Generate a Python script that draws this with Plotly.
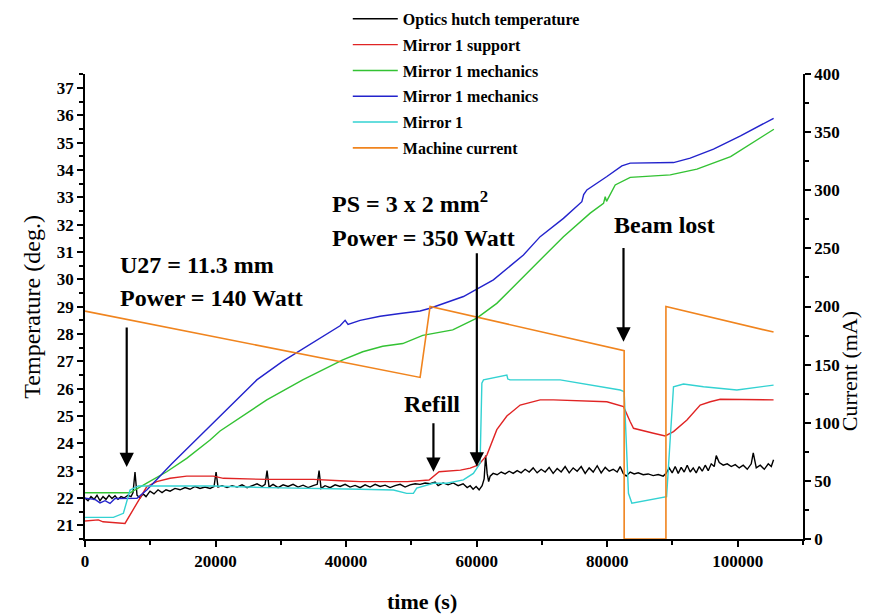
import plotly.graph_objects as go

# ---------------- data ----------------
t_black = [0, 460, 920, 1380, 1840, 2300, 2760, 3220, 3680, 4140, 4600, 5060, 5520, 5980, 6590, 7050, 7360,
           7660, 7970, 8430, 8890, 9350, 9960, 10570, 11190, 11800, 12410, 13030, 13790, 14560, 15330, 16090,
           16860, 17620, 18390, 19160, 19770, 20080, 20380, 21000, 21760, 22530, 23300, 24060, 24830, 25590,
           26360, 27130, 27590, 27890, 28200, 28810, 29580, 30350, 31110, 31880, 32640, 33410, 34180, 34940,
           35580, 35860, 36170, 36780, 37550, 38320, 39080, 39850, 40610, 41380, 42150, 42910, 43680, 44450,
           45210, 45980, 46740, 47510, 48280, 49040, 49810, 50580, 51340, 52110, 52870, 53640, 54100, 54870,
           55630, 56400, 57170, 57930, 58550, 59010, 59460, 59920, 60380, 60840, 61150, 61380, 61610, 61840,
           62070, 62530, 63140, 63760, 64370, 64980, 65600, 66210, 66820, 67430, 68050, 68660, 69270, 69890,
           70500, 71110, 71720, 72340, 72950, 73560, 74180, 74790, 75400, 76020, 76630, 77240, 77860, 78470,
           79080, 79700, 80310, 80920, 81530, 81990, 82450, 82910, 83530, 84140, 84750, 85520, 86280, 87050,
           87820, 88580, 89040, 89500, 89960, 90420, 90880, 91340, 91800, 92260, 92720, 93180, 93640, 94100,
           94560, 95020, 95480, 95940, 96400, 96710, 97170, 97780, 98390, 99010, 99620, 100230, 100840, 101460,
           102070, 102380, 102840, 103450, 104070, 104680, 105140, 105490]
T_black = [22.0, 21.9, 22.05, 21.95, 22.1, 21.9, 22.05, 21.95, 22.1, 21.98, 22.08, 21.95, 22.05, 22.0, 22.1,
           22.05, 22.2, 22.95, 22.1, 22.0, 22.15, 22.05, 22.25, 22.15, 22.3, 22.2, 22.3, 22.25, 22.35, 22.3,
           22.38, 22.32, 22.42, 22.35, 22.4, 22.35, 22.42, 22.95, 22.4, 22.45, 22.38, 22.45, 22.4, 22.48, 22.38,
           22.45, 22.52, 22.42, 22.5, 23.0, 22.4, 22.5, 22.38, 22.48, 22.42, 22.5, 22.4, 22.47, 22.38, 22.45,
           22.5, 23.0, 22.35, 22.45, 22.38, 22.48, 22.42, 22.5, 22.4, 22.46, 22.38, 22.48, 22.4, 22.5, 22.42,
           22.47, 22.38, 22.45, 22.5, 22.4, 22.48, 22.52, 22.5, 22.55, 22.52, 22.58, 22.45, 22.55, 22.48, 22.55,
           22.45, 22.52, 22.38, 22.45, 22.32, 22.42, 22.3, 22.45, 22.7, 23.55, 22.9, 22.6, 22.8, 22.9, 22.85,
           22.95, 22.88, 22.98, 22.9, 23.0, 22.92, 23.05, 22.95, 23.1, 22.92, 23.05, 22.95, 23.12, 22.9, 23.08,
           22.95, 23.15, 22.92, 23.1, 22.98, 23.15, 22.9, 23.1, 22.95, 23.18, 22.92, 23.12, 22.98, 23.05, 22.95,
           23.15, 22.9, 22.8, 22.95, 22.88, 22.92, 22.85, 22.88, 22.82, 22.86, 22.8, 22.9, 23.1, 22.92, 23.15,
           22.9, 23.12, 22.95, 23.2, 22.95, 23.1, 22.92, 23.15, 22.98, 23.2, 23.0, 23.25, 23.15, 23.55, 23.3,
           23.2, 23.25, 23.15, 23.22, 23.1, 23.2, 23.05, 23.25, 23.65, 23.1, 23.2, 23.05, 23.25, 23.15, 23.4]

t_red = [0, 2040, 2760, 6130, 9450, 10980, 13030, 15580, 19670, 21200, 27850, 34990, 39080, 42150, 49390,
         52710, 54250, 57520, 59010, 60290, 61570, 63090, 64630, 66670, 69730, 71770, 79950, 82500, 83530,
         84030, 87100, 88890, 90160, 92220, 94250, 95790, 97320, 105490]
T_red = [21.16, 21.2, 21.13, 21.07, 22.41, 22.6, 22.72, 22.8, 22.8, 22.72, 22.68, 22.68, 22.63, 22.6, 22.6,
         22.66, 22.96, 23.02, 23.09, 23.21, 23.57, 24.5, 25.0, 25.4, 25.59, 25.59, 25.52, 25.34, 24.79,
         24.55, 24.37, 24.27, 24.43, 24.85, 25.4, 25.52, 25.61, 25.59]

t_green = [0, 6900, 9460, 12520, 15580, 19160, 20690, 27850, 33350, 36420, 39490, 42550, 45610, 48680,
           51740, 56340, 60030, 63090, 68200, 73300, 77400, 79440, 79700, 79900, 81230, 83530, 89660, 93750,
           98910, 104010, 105540]
T_green = [22.19, 22.19, 22.54, 22.96, 23.45, 24.12, 24.45, 25.59, 26.32, 26.7, 27.05, 27.35, 27.55, 27.65,
           27.95, 28.15, 28.58, 29.12, 30.34, 31.56, 32.42, 32.78, 33.02, 32.85, 33.45, 33.73, 33.82, 34.03,
           34.49, 35.28, 35.49]

t_blue = [0, 1530, 2300, 3070, 3830, 4600, 7970, 9500, 13290, 20690, 26320, 30270, 33350, 36020,
          39080, 39850, 40300, 42150, 45220, 48280, 51340, 52870, 57980, 60030, 62570, 67170, 69730, 73300,
          76120, 76400, 76890, 79960, 82250, 83530, 90160, 92720, 96290, 100430, 103960, 105500]
T_blue = [21.99, 21.95, 21.82, 21.9, 21.8, 21.98, 21.99, 22.3, 23.25, 25.0, 26.32, 27.0, 27.45,
          27.85, 28.3, 28.5, 28.35, 28.5, 28.65, 28.75, 28.84, 28.94, 29.37, 29.64, 29.98, 30.89, 31.56, 32.23,
          32.84, 33.1, 33.27, 33.76, 34.15, 34.25, 34.27, 34.43, 34.76, 35.25, 35.71, 35.89]

t_cyan = [0, 4350, 5880, 6650, 6900, 8180, 19670, 27850, 34990, 42150, 47250, 49290, 50310, 50820, 53370,
          55420, 57970, 59500, 60530, 60800, 61050, 63600, 64630, 64780, 65140, 72800, 81990, 82600, 83260,
          83780, 89100, 90160, 91690, 94760, 99870, 105490]
T_cyan = [21.29, 21.29, 21.44, 22.05, 22.29, 22.44, 22.44, 22.38, 22.36, 22.32, 22.29, 22.17, 22.17, 22.36,
          22.54, 22.54, 22.66, 22.9, 23.27, 26.2, 26.32, 26.44, 26.5, 26.35, 26.32, 26.32, 25.95, 25.89, 22.17,
          21.81, 22.05, 26.07, 26.17, 26.07, 25.95, 26.13]

t_current = [0, 51340, 52870, 82600, 82600, 89000, 89000, 105490]
I_current = [196, 139, 200, 162, 0, 0, 200, 178]

series_names = ["Optics hutch temperature", "Mirror 1 support", "Mirror 1 mechanics",
                "Mirror 1 mechanics", "Mirror 1", "Machine current"]
colors = ["#000000", "#e02424", "#33c233", "#2323cc", "#33d2d2", "#f0841e"]

FONT = "Liberation Serif"

fig = go.Figure()
temp_series = [(t_black, T_black), (t_red, T_red), (t_green, T_green), (t_blue, T_blue), (t_cyan, T_cyan)]
for i, (tx, ty) in enumerate(temp_series):
    fig.add_trace(go.Scatter(x=tx, y=ty, mode="lines", name=series_names[i], legendgroup=str(i),
                             line=dict(color=colors[i], width=1.4)))
fig.add_trace(go.Scatter(x=t_current, y=I_current, mode="lines", name=series_names[5], legendgroup="5",
                         line=dict(color=colors[5], width=1.6), yaxis="y2"))

axis_common = dict(showgrid=False, zeroline=False, showline=True, linecolor="black", linewidth=1.5,
                   ticks="outside", ticklen=6, tickwidth=1.5, tickcolor="black",
                   tickfont=dict(family=FONT, size=17, color="black", weight="bold"))

fig.update_layout(
    width=878, height=615,
    margin=dict(l=85, r=75, t=74, b=76, autoexpand=False),
    plot_bgcolor="white", paper_bgcolor="white",
    xaxis=dict(range=[0, 110000], dtick=20000, tick0=0, tickformat="d",
               minor=dict(dtick=10000, ticks="outside", ticklen=4, tickcolor="black", tickwidth=1.5),
               **axis_common),
    yaxis=dict(range=[20.5, 37.51], dtick=1, tick0=21,
               minor=dict(dtick=0.5, ticks="outside", ticklen=4, tickcolor="black", tickwidth=1.5),
               **axis_common),
    yaxis2=dict(range=[0, 400], dtick=50, tick0=0, overlaying="y", side="right",
                minor=dict(dtick=25, ticks="outside", ticklen=4, tickcolor="black", tickwidth=1.5),
                **axis_common),
    showlegend=True,
    legend=dict(x=0.366, y=1.155, xanchor="left", yanchor="top", bgcolor="rgba(0,0,0,0)",
                font=dict(family=FONT, size=16, color="black", weight="bold"),
                tracegroupgap=2, itemwidth=45),
)

# axis titles
fig.add_annotation(text="Temperature (deg.)", xref="paper", yref="paper", x=-0.075, y=0.5,
                   xanchor="center", yanchor="middle", textangle=-90, showarrow=False,
                   font=dict(family=FONT, size=24, color="black"))
fig.add_annotation(text="Current (mA)", xref="paper", yref="paper", x=1.065, y=0.36,
                   xanchor="center", yanchor="middle", textangle=-90, showarrow=False,
                   font=dict(family=FONT, size=22, color="black"))
fig.add_annotation(text="<b>time (s)</b>", xref="paper", yref="paper", x=0.47, y=-0.135,
                   xanchor="center", yanchor="middle", showarrow=False,
                   font=dict(family=FONT, size=22, color="black"))

# text labels
labels = [("U27 = 11.3 mm", 5000, 30.53), ("Power = 140 Watt", 5000, 29.32),
          ("PS = 3 x 2 mm<sup>2</sup>", 37500, 32.83), ("Power = 350 Watt", 37500, 31.51),
          ("Refill", 48500, 25.44), ("Beam lost", 80700, 31.99)]
for txt, lx, ly in labels:
    fig.add_annotation(text="<b>" + txt + "</b>", x=lx, y=ly, xref="x", yref="y", xanchor="left",
                       yanchor="middle", showarrow=False, font=dict(family=FONT, size=24, color="black"))

# arrows (tail -> tip)
arrows = [(6390, 28.29, 23.13), (53380, 24.79, 22.96), (60030, 31.01, 23.15), (82500, 31.2, 27.72)]
for ax_, y_tail, y_tip in arrows:
    fig.add_annotation(x=ax_, y=y_tip, ax=ax_, ay=y_tail, xref="x", yref="y", axref="x", ayref="y",
                       text="", showarrow=True, arrowhead=2, arrowsize=1.3, arrowwidth=2.2,
                       arrowcolor="black")

fig.write_html("out.html")
